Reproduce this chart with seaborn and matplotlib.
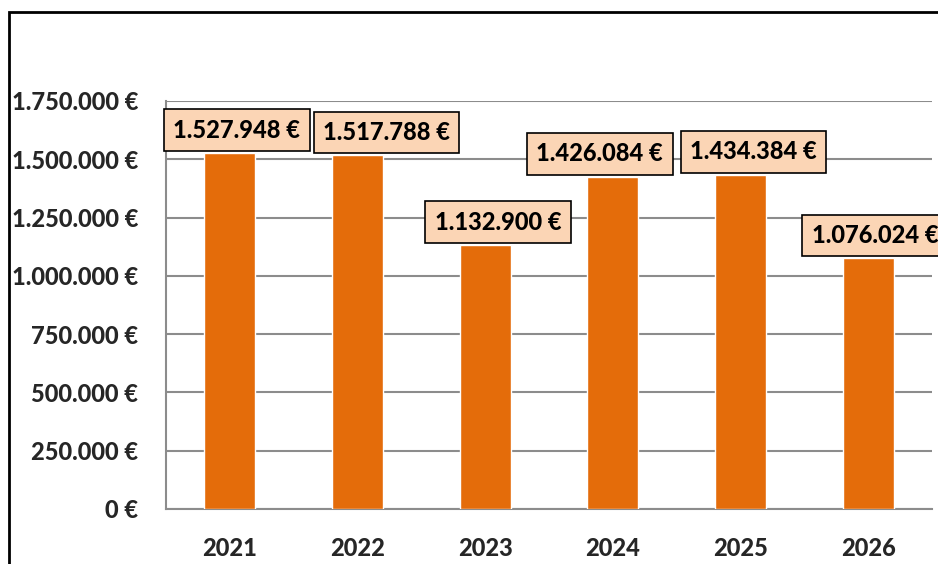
import numpy as np
import pandas as pd
import matplotlib
matplotlib.use("Agg")
import matplotlib.pyplot as plt
import matplotlib.ticker as mticker
from matplotlib.patches import Rectangle
import seaborn as sns

# data
years = ["2021", "2022", "2023", "2024", "2025", "2026"]
values = [1527948, 1517788, 1132900, 1426084, 1434384, 1076024]
# horizontal nudges of the value boxes (pixels), like Excel does to avoid overlap
label_shift = [7, 29, 13, -13, 13, 7]

df = pd.DataFrame({"year": years, "value": values})

def euro(v):
    return f"{int(v):,}".replace(",", ".") + " €"

sns.set_style("white")
plt.rcParams["font.family"] = ["Lato", "DejaVu Sans"]
plt.rcParams["font.weight"] = "black"

fig = plt.figure(figsize=(9.38, 5.64), dpi=100)
ax = fig.add_axes([166 / 938, 1 - 509 / 564, (932 - 166) / 938, (509 - 101) / 564])

sns.barplot(data=df, x="year", y="value", color="#E46C0A", saturation=1,
            width=0.4, ax=ax, zorder=3)

ax.set_xlim(-0.5, len(years) - 0.5)
ax.set_ylim(0, 1750000)
ax.yaxis.set_major_locator(mticker.MultipleLocator(250000))
ax.yaxis.set_major_formatter(mticker.FuncFormatter(lambda v, p: euro(v)))
ax.grid(axis="y", color="#8c8c8c", linewidth=1.5, zorder=0)
ax.set_xlabel("")
ax.set_ylabel("")

for s in ["top", "right"]:
    ax.spines[s].set_visible(False)
for s in ["left", "bottom"]:
    ax.spines[s].set_color("#8c8c8c")
    ax.spines[s].set_linewidth(1.5)

fs = 17
ax.tick_params(axis="y", length=8, width=1.5, color="#8c8c8c", pad=12,
               labelsize=fs)
ax.tick_params(axis="x", which="major", length=0, pad=20, labelsize=fs)
ax.set_xticks(np.arange(len(years) + 1) - 0.5, minor=True)
ax.tick_params(axis="x", which="minor", length=8, width=1.5, color="#8c8c8c")
for t in ax.get_xticklabels() + ax.get_yticklabels():
    t.set_fontweight("black")

for i, (v, dx) in enumerate(zip(values, label_shift)):
    ax.annotate(euro(v), xy=(i, v), xytext=(dx * 0.72, 8),
                textcoords="offset points", ha="center", va="bottom",
                fontsize=fs, fontweight="black", color="black",
                bbox=dict(boxstyle="square,pad=0.4", facecolor="#FBD5B5",
                          edgecolor="black", linewidth=1.2),
                annotation_clip=False, zorder=5)

# chart area border (cropped on right and bottom)
fig.patches.append(Rectangle((9 / 938, -0.1), 1.2, 1 - 12 / 564 + 0.1,
                             transform=fig.transFigure, fill=False,
                             edgecolor="black", linewidth=2))

fig.savefig("out.png", dpi=100)
